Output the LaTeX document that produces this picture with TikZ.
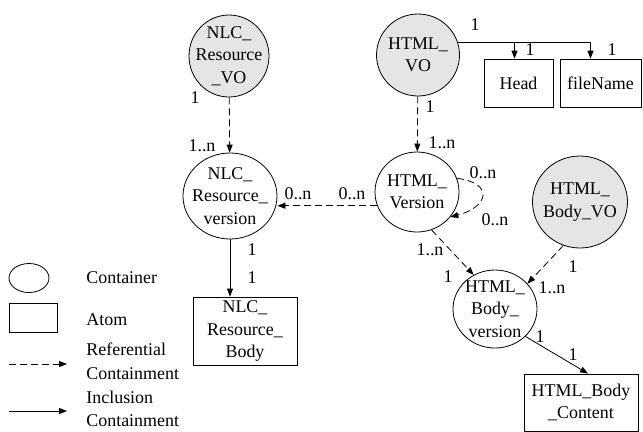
\documentclass[tikz,border=0pt]{standalone}
\usepackage{fontspec}
\setmainfont{Liberation Serif}
\usetikzlibrary{arrows.meta,shapes.geometric,calc}
\begin{document}
\begin{tikzpicture}[x=1bp,y=-1bp,
  font=\fontsize{18}{22.5}\selectfont, line width=0.8bp,
  cont/.style={draw, ellipse, inner sep=0pt},
  vo/.style={cont, fill=gray!20},
  txt/.style={inner sep=0pt, align=center},
  atom/.style={draw, rectangle, inner sep=0pt, align=center},
  tip/.style={-{Triangle[length=8bp,width=6bp]}},
  ref/.style={tip, dash pattern=on 7bp off 4bp},
  inc/.style={tip},
  lbl/.style={inner sep=0pt},
  leg/.style={inner sep=0pt, anchor=west}]
\useasboundingbox (0,0) rectangle (643,431);

% containers
\node[vo, minimum width=80bp, minimum height=82bp] (nlcvo) at (229,56) {};
\node[txt] (nlcvot) at (nlcvo) {NLC\_\\Resource\\\_VO};
\node[vo, minimum width=83bp, minimum height=82bp] (htmlvo) at (418,55) {};
\node[txt] (htmlvot) at (htmlvo) {HTML\_\\VO};
\node[cont, minimum width=94bp, minimum height=86bp] (nlcver) at (230,196) {};
\node[txt] (nlcvert) at (nlcver) {NLC\_\\Resource\_\\version};
\node[cont, minimum width=84bp, minimum height=80bp] (htmlver) at (417,192) {};
\node[txt] (htmlvert) at (htmlver) {HTML\_\\Version};
\node[vo, minimum width=95bp, minimum height=92bp] (htmlbodyvo) at (580,202) {};
\node[txt] (htmlbodyvot) at (htmlbodyvo) {HTML\_\\Body\_VO};
\node[cont, minimum width=84bp, minimum height=78bp] (htmlbodyver) at (495,309) {};
\node[txt] (htmlbodyvert) at (htmlbodyver) {HTML\_\\Body\_\\version};

% atoms
\node[atom, minimum width=69bp, minimum height=48bp] (head) at (518.5,83) {Head};
\node[atom, minimum width=81bp, minimum height=48bp] (fname) at (600.5,83) {fileName};
\node[atom, minimum width=104bp, minimum height=68bp] (nlcbody) at (245,331) {NLC\_\\Resource\_\\Body};
\node[atom, minimum width=114bp, minimum height=57bp] (htmlcontent) at (581,402.5) {HTML\_Body\\\_Content};

% connectors
\draw[ref] (nlcvo) -- (nlcver);
\draw[ref] (htmlvo) -- (htmlver);
\draw[inc] (htmlvo.17) -| ([xshift=-4bp]head.north);
\draw[inc] (htmlvo.17) -| ([xshift=-10bp]fname.north);
\draw[ref] (htmlver.199.5) -- (nlcver.east |- htmlver.199.5);
\draw[ref] (htmlver.19) .. controls +(38,5) and +(38,-10) .. (htmlver.-37);
\draw[ref] (htmlver.-69) -- (htmlbodyver.122);
\draw[ref] (htmlbodyvo.-111) -- (htmlbodyver.38);
\draw[inc] (htmlbodyver.-42) -- ([xshift=7bp]htmlcontent.north);
\draw[inc] (nlcver.south) -- (nlcver.south |- nlcbody.north);

% multiplicity labels
\node[lbl] (m1) at (195,98) {1};
\node[lbl] (m2) at (202,146) {1..n};
\node[lbl] (m3) at (475,25) {1};
\node[lbl] (m4) at (530,50) {1};
\node[lbl] (m5) at (612,50) {1};
\node[lbl] (m6) at (430,107) {1};
\node[lbl] (m7) at (442,143) {1..n};
\node[lbl] (m8) at (298,194) {0..n};
\node[lbl] (m9) at (352,194) {0..n};
\node[lbl] (m10) at (483,173) {0..n};
\node[lbl] (m11) at (495,220) {0..n};
\node[lbl] (m12) at (430,250) {1..n};
\node[lbl] (m13) at (448,277) {1};
\node[lbl] (m14) at (573,267) {1};
\node[lbl] (m15) at (552,288) {1..n};
\node[lbl] (m16) at (540,337) {1};
\node[lbl] (m17) at (573,355) {1};
\node[lbl] (m18) at (252,250) {1};
\node[lbl] (m19) at (252,278) {1};

% legend
\node[cont, minimum width=40bp, minimum height=29bp] (lgc) at (29,278) {};
\node[leg] (lgct) at (86,278) {Container};
\node[atom, minimum width=48bp, minimum height=29bp] (lga) at (33,317.5) {};
\node[leg] (lgat) at (86,320) {Atom};
\coordinate (lr1) at (9,364);
\coordinate (lr2) at (67,364);
\draw[ref] (lr1) -- (lr2);
\node[leg] (lgr1) at (86,349) {Referential};
\node[leg] (lgr2) at (86,374) {Containment};
\coordinate (li1) at (9,411);
\coordinate (li2) at (67,411);
\draw[inc] (li1) -- (li2);
\node[leg] (lgi1) at (86,397) {Inclusion};
\node[leg] (lgi2) at (86,421) {Containment};
\end{tikzpicture}
\end{document}
